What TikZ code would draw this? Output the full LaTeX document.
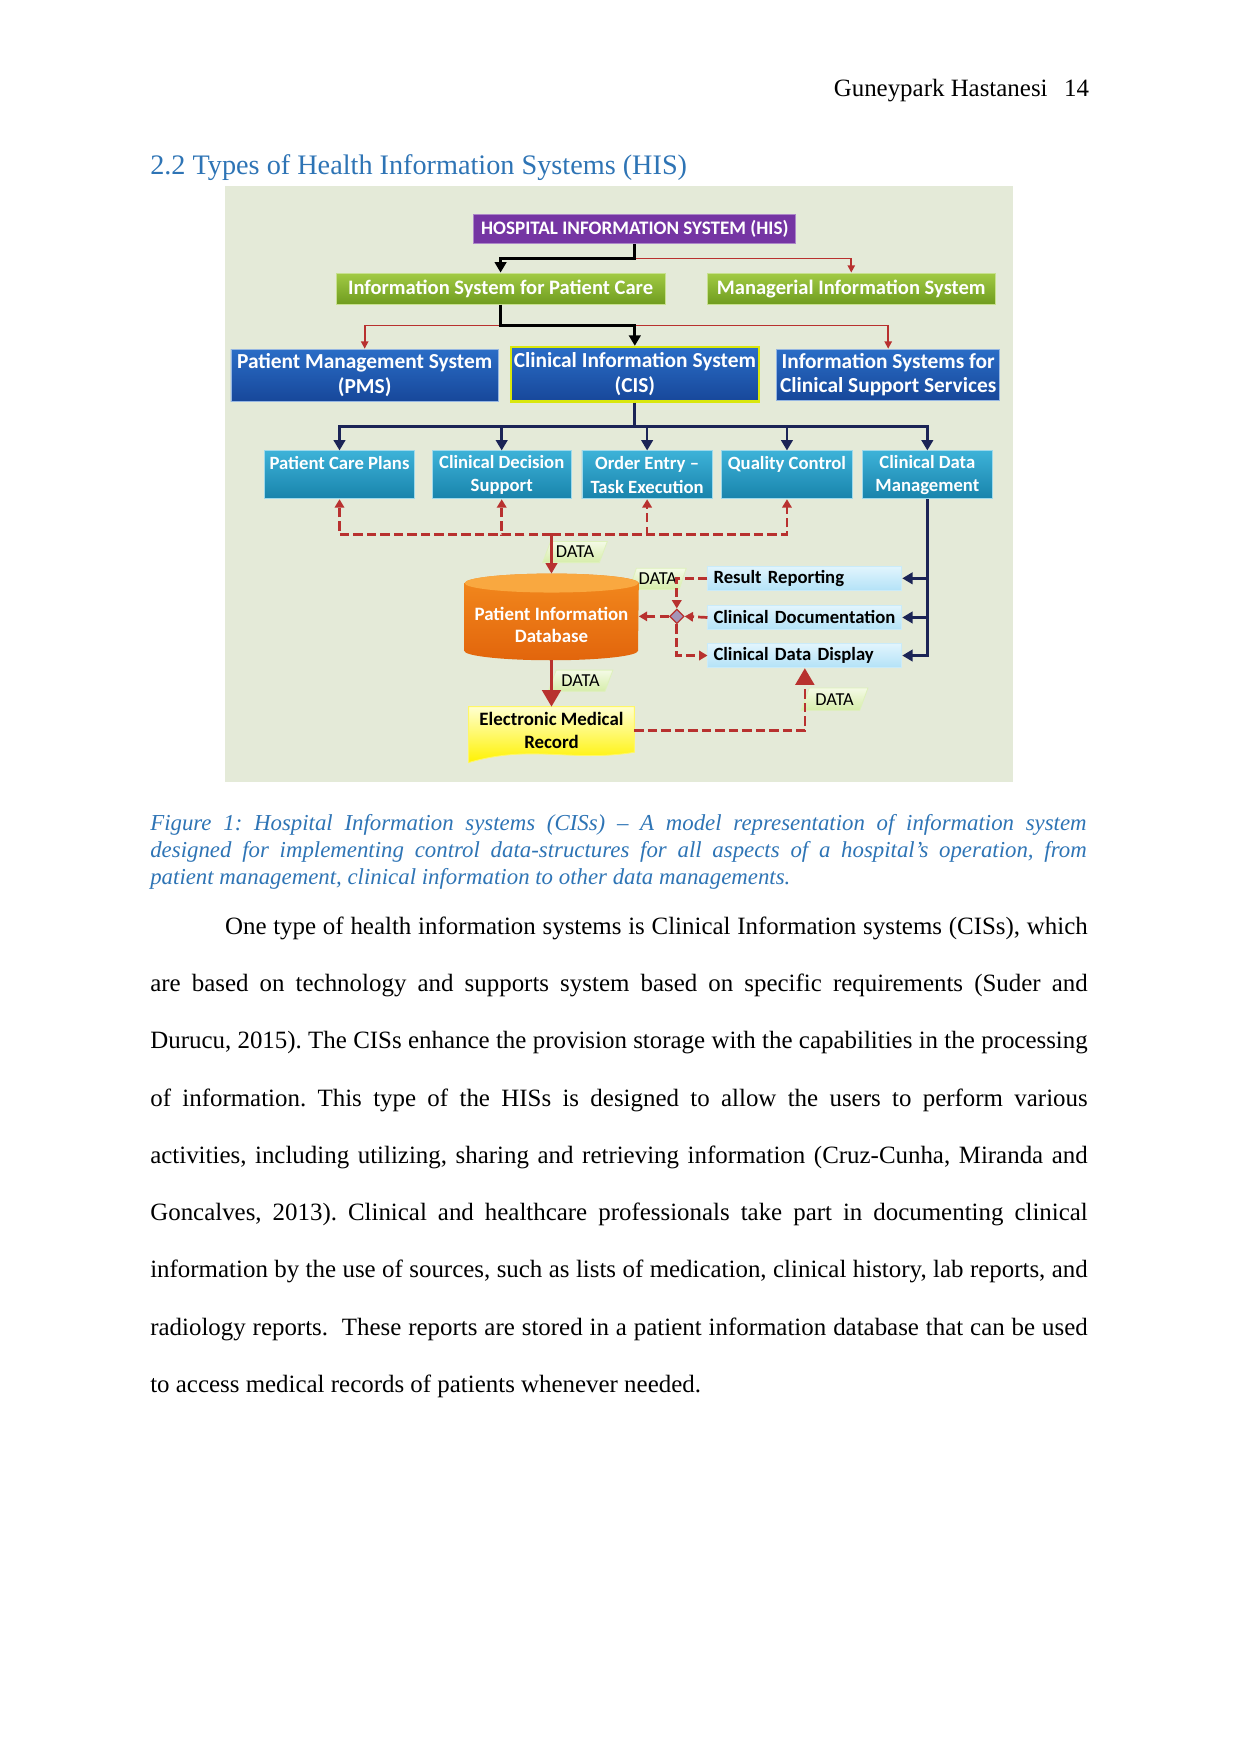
\documentclass[tikz,border=0pt]{standalone}
\usepackage{fontspec}
\setmainfont{Liberation Serif}
\newfontfamily\calib{Carlito}
\usetikzlibrary{arrows.meta, shapes.geometric, calc, positioning}
\frenchspacing
\definecolor{headblue}{HTML}{2E74B5}
\definecolor{figbg}{HTML}{E4EAD8}
\definecolor{hispurple}{HTML}{7535A3}
\definecolor{greentop}{HTML}{A2CB45}
\definecolor{greenbot}{HTML}{6F9C1F}
\definecolor{bluetop}{HTML}{2A6DC6}
\definecolor{bluebot}{HTML}{17479A}
\definecolor{tealtop}{HTML}{3DB2D8}
\definecolor{tealbot}{HTML}{1883AB}
\definecolor{ltbluetop}{HTML}{E2F5FD}
\definecolor{ltbluebot}{HTML}{B3E2F7}
\definecolor{dbend}{HTML}{F9A840}
\definecolor{dbtop}{HTML}{F38A1E}
\definecolor{dbbot}{HTML}{E2650C}
\definecolor{emrtop}{HTML}{FFFFD0}
\definecolor{emrbot}{HTML}{FFF200}
\definecolor{datatop}{HTML}{F4FAE6}
\definecolor{databot}{HTML}{D6EDAA}
\definecolor{linkred}{HTML}{B8312F}
\definecolor{linknavy}{HTML}{1B2456}
\definecolor{diagrey}{HTML}{A495B8}

\tikzset{
  wh/.style 2 args={minimum width=#1*0.5368pt, minimum height=#2*0.5368pt},
  sysbox/.style={rectangle, inner sep=1pt, align=center, text=white, font=\calib\bfseries\fontsize{9.9}{11}\selectfont},
  hisbox/.style={sysbox, fill=hispurple, draw=hispurple!60!white, font=\calib\bfseries\fontsize{9.2}{10}\selectfont},
  greenbox/.style={sysbox, top color=greentop, bottom color=greenbot, draw=greentop!60!white},
  bluebox/.style={sysbox, top color=bluetop, bottom color=bluebot, draw=bluetop!50!white, font=\calib\bfseries\fontsize{10.3}{11.8}\selectfont},
  tealbox/.style={sysbox, top color=tealtop, bottom color=tealbot, draw=tealtop!50!white, font=\calib\bfseries\fontsize{9}{11.3}\selectfont},
  taskbox/.style={rectangle, inner xsep=2.7pt, inner ysep=0pt, align=left, text width=88pt, top color=ltbluetop, bottom color=ltbluebot, draw=ltbluebot!70!white, font=\calib\bfseries\fontsize{9}{10}\selectfont},
  datatag/.style={trapezium, trapezium left angle=62, trapezium right angle=118, trapezium stretches=true, inner sep=0pt, top color=datatop, bottom color=databot, draw=databot!80!white, font=\calib\fontsize{8.8}{9}\selectfont},
  darkln/.style={line width=1.3pt, -{Triangle[length=5pt,width=5.5pt]}},
  redln/.style={linkred, line width=0.8pt, -{Triangle[length=3.5pt,width=3.5pt]}},
  reddash/.style={linkred, line width=1.3pt, dash pattern=on 4.5pt off 2pt, -{Triangle[length=4pt,width=4.5pt]}},
  bigtip/.style={-{Triangle[length=8pt,width=9pt]}}
}

\begin{document}
\begin{tikzpicture}[x=0.018936cm, y=-0.018936cm]
  \useasboundingbox (0,0) rectangle (1109,1568);
  % Page head
  \node[anchor=base east, inner sep=0pt, font=\fontsize{12}{14}\selectfont] (pagehead) at (974,86) {Guneypark Hastanesi\hspace{8pt}14};
  \node[anchor=base west, inner sep=0pt, text=headblue, font=\fontsize{13.6}{15}\selectfont] (sectitle) at (134,156) {2.2 Types of Health Information Systems (HIS)};

  % Figure panel
  \fill[figbg] (201,166) rectangle (906,699);

  % Top levels
  \node[hisbox, wh={289}{26}] (his) at (567.5,205) {HOSPITAL INFORMATION SYSTEM (HIS)};
  \node[greenbox, wh={295}{28}] (ispc) at (447.5,258) {Information System for Patient Care};
  \node[greenbox, wh={258}{28}] (mis) at (761,258) {Managerial Information System};
  \node[bluebox, wh={240}{47}] (pms) at (326,335.5) {Patient Management System\\(PMS)};
  \node[bluebox, wh={223}{49}, draw=yellow!85!green, line width=1pt] (cis) at (567.5,334.5) {Clinical Information System\\(CIS)};
  \node[bluebox, wh={200}{46}] (iscs) at (794,335) {Information Systems for\\Clinical Support Services};

  % CIS modules
  \node[tealbox, wh={135}{43}] (pcp) at (303.5,424.5) {Patient Care Plans\\~};
  \node[tealbox, wh={125}{43}] (cds) at (448.5,424.5) {Clinical Decision\\Support};
  \node[tealbox, wh={117}{43}] (oe) at (578.5,424.5) {Order Entry –\\Task Execution};
  \node[tealbox, wh={117}{43}] (qc) at (703.5,424.5) {Quality Control\\~};
  \node[tealbox, wh={116}{43}] (cdm) at (829,424.5) {Clinical Data\\Management};

  % Data tags (under the links)
  \node[datatag, wh={58}{19}] (tag1) at (514,493.5) {DATA};
  \node[datatag, wh={51}{19}] (tag2) at (588,517.5) {DATA};
  \node[datatag, wh={58}{19}] (tag3) at (519,608.5) {DATA};
  \node[datatag, wh={60}{20}] (tag4) at (746,625) {DATA};

  % Database drum
  \node[wh={156}{77}, inner sep=0pt] (db) at (493,551.5) {};
  \shade[top color=dbtop, bottom color=dbbot] ([yshift=-4.56pt]db.north west) -- ([yshift=4.56pt]db.south west) arc[start angle=180, end angle=360, x radius=41.87pt, y radius=4.56pt] -- ([yshift=-4.56pt]db.north east) arc[start angle=0, end angle=180, x radius=41.87pt, y radius=4.56pt] -- cycle;
  \fill[dbend] ([yshift=-4.56pt]db.north) ellipse [x radius=41.87pt, y radius=4.56pt];
  \node[inner sep=0pt, align=center, text=white, font=\calib\bfseries\fontsize{9.1}{10.7}\selectfont] (dbtext) at ([yshift=-4pt]db.center) {Patient Information\\Database};

  % Result boxes
  \node[taskbox, wh={173}{22}] (rr) at (719.5,517) {Result Reporting};
  \node[taskbox, wh={173}{22}] (cdoc) at (719.5,552) {Clinical Documentation};
  \node[taskbox, wh={173}{22}] (cdd) at (719.5,586) {Clinical Data Display};
  \node[diamond, minimum size=7pt, inner sep=0pt, fill=diagrey, draw=linkred, line width=0.6pt] (dia) at (605,551) {};

  % Record sheet
  \node[wh={148}{42}, inner sep=0pt] (emr) at (493,653) {};
  \shade[top color=emrtop, bottom color=emrbot, draw=emrbot!60!white] (emr.north west) -- (emr.north east) -- ([yshift=1pt]emr.south east) .. controls ([xshift=-30pt,yshift=-4pt]emr.south east) and ([xshift=30pt,yshift=5pt]emr.south west) .. ([yshift=-4pt]emr.south west) -- cycle;
  \node[inner sep=0pt, align=center, font=\calib\bfseries\fontsize{9.1}{10.7}\selectfont] (emrtext) at (emr.center) {Electronic Medical\\Record};

  % Hierarchy links
  \coordinate (j1) at (567.5,231);
  \coordinate (j2) at (447.5,291);
  \coordinate (j3) at (567.5,381);
  \draw[redln] (j1) -| (mis.north);
  \draw[darkln] (his.south) -- (j1) -| (ispc.north);
  \draw[redln] (j2) -| (pms.north);
  \draw[redln] (j2) -| (iscs.north);
  \draw[darkln] (ispc.south) -- (j2) -| (cis.north);
  \draw[darkln, linknavy, -] (cis.south) -- (j3);
  \draw[darkln, linknavy] (j3) -| (pcp.north);
  \draw[darkln, linknavy] (j3) -| (cds.north);
  \draw[darkln, linknavy] (j3) -| (oe.north);
  \draw[darkln, linknavy] (j3) -| (qc.north);
  \draw[darkln, linknavy] (j3) -| (cdm.north);

  % Data flow to modules
  \coordinate (j4) at (493,478);
  \draw[reddash] (j4) -| (pcp.south);
  \draw[reddash] (j4) -| (cds.south);
  \draw[reddash] (j4) -| (oe.south);
  \draw[reddash] (j4) -| (qc.south);
  \draw[linkred, line width=1.1pt, -{Triangle[length=5pt,width=5.5pt]}] (j4) -- (db.north);

  % Clinical data management outputs
  \draw[darkln, linknavy] (cdm.south) |- (rr.east);
  \draw[darkln, linknavy] (cdm.south) |- (cdoc.east);
  \draw[darkln, linknavy] (cdm.south) |- (cdd.east);

  % Results into the database
  \draw[reddash] (rr.west) -| (dia.north);
  \draw[reddash] (cdoc.west) -- (dia.east);
  \draw[reddash] (dia.west) -- (db.east |- dia.west);
  \draw[reddash] (dia.south) |- (cdd.west);
  \draw[linkred, line width=1.4pt, bigtip] (db.south) -- (emr.north);
  \draw[reddash, bigtip] (emr.east) -| (cdd.south);

  % Caption and body text
  \node[anchor=north west, inner sep=0pt, text width=451pt, align=justify, text=headblue, font=\itshape\fontsize{11}{12.9}\selectfont] (caption) at (134,728) {Figure 1: Hospital Information systems (CISs) -- A model representation of information system\linebreak designed for implementing control data-structures for all aspects of a hospital’s operation, from\linebreak patient management, clinical information to other data managements.};
  \node[anchor=north west, inner sep=0pt, text width=451.5pt, align=justify, font=\fontsize{12}{27.6}\selectfont] (body) at (134,819) {\noindent\hspace*{36pt}One type of health information systems is Clinical Information systems (CISs), which\linebreak are based on technology and supports system based on specific requirements (Suder and\linebreak Durucu, 2015). The CISs enhance the provision storage with the capabilities in the processing\linebreak of information. This type of the HISs is designed to allow the users to perform various\linebreak activities, including utilizing, sharing and retrieving information (Cruz-Cunha, Miranda and\linebreak Goncalves, 2013). Clinical and healthcare professionals take part in documenting clinical\linebreak information by the use of sources, such as lists of medication, clinical history, lab reports, and\linebreak radiology reports.\ \ These reports are stored in a patient information database that can be used\linebreak to access medical records of patients whenever needed.};
\end{tikzpicture}
\end{document}
